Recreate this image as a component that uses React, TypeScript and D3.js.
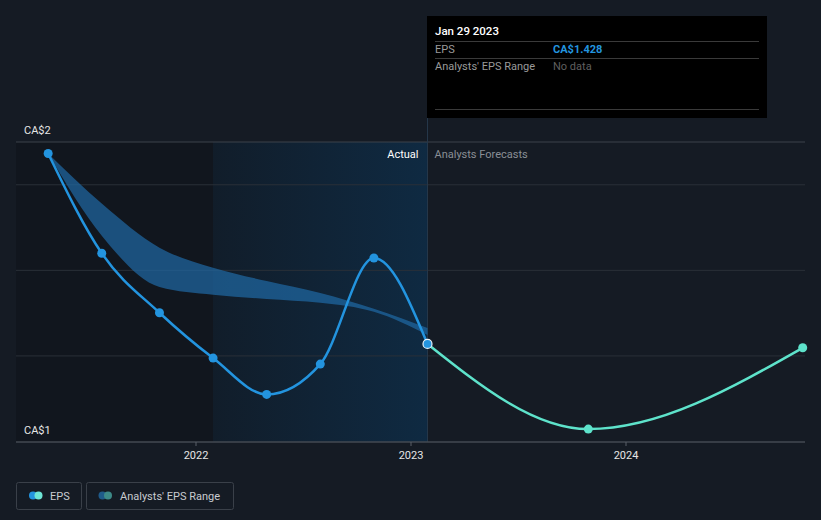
import React from "react";
import * as d3 from "d3";

const actualDates = ["2021-04-25", "2021-07-25", "2021-10-31", "2022-01-30", "2022-05-01", "2022-07-31", "2022-10-30", "2023-01-29"];
const actualEps = [1.873, 1.64, 1.501, 1.395, 1.31, 1.381, 1.629, 1.428];
const bandHigh = [1.873, 1.756, 1.653, 1.606, 1.575, 1.547, 1.51, 1.465];
const bandLow = [1.873, 1.681, 1.561, 1.543, 1.533, 1.524, 1.503, 1.449];
const forecastDates = ["2023-01-29", "2023-10-29", "2024-10-27"];
const forecastEps = [1.428, 1.229, 1.419];
const xTicks = ["2022-01-01", "2023-01-01", "2024-01-01"];
const xTickLabels = ["2022", "2023", "2024"];
const yGrid = [1.4, 1.6, 1.8];
const yLabels = ["CA$2", "CA$1"];

const W = 821;
const H = 520;
const parse = d3.timeParse("%Y-%m-%d");

export default function App() {
  const x = d3
    .scaleTime()
    .domain([parse("2022-01-01")!, parse("2024-01-01")!])
    .range([196, 626]);
  const y = d3.scaleLinear().domain([1.2, 1.9]).range([441.5, 142]);

  const actual = actualDates.map((d, i) => ({ x: x(parse(d)!), y: y(actualEps[i]) }));
  const band = actualDates.map((d, i) => ({ x: x(parse(d)!), hi: y(bandHigh[i]), lo: y(bandLow[i]) }));
  const fc = forecastDates.map((d, i) => ({ x: x(parse(d)!), y: y(forecastEps[i]) }));

  const line = d3
    .line<{ x: number; y: number }>()
    .x((d) => d.x)
    .y((d) => d.y)
    .curve(d3.curveMonotoneX);
  const area = d3
    .area<{ x: number; hi: number; lo: number }>()
    .x((d) => d.x)
    .y0((d) => d.lo)
    .y1((d) => d.hi)
    .curve(d3.curveMonotoneX);

  const nowX = x(parse("2023-01-29")!);
  const pastStart = x(parse("2022-01-30")!);
  const top = y(1.9);
  const bottom = y(1.2);
  const font = "Roboto, 'Noto Sans', sans-serif";

  return (
    <svg width={W} height={H} style={{ position: "absolute", left: 0, top: 0, display: "block" }} fontFamily={font}>
      <defs>
        <linearGradient id="pastGrad" x1="0" x2="1" y1="0" y2="0">
          <stop offset="0%" stopColor="#111d2a" />
          <stop offset="100%" stopColor="#0f2a42" />
        </linearGradient>
      </defs>
      <rect x={0} y={0} width={W} height={H} fill="#151b24" />
      <rect x={16} y={top} width={pastStart - 16} height={bottom - top} fill="#11161e" />
      <rect x={pastStart} y={top} width={nowX - pastStart} height={bottom - top} fill="url(#pastGrad)" />
      {yGrid.map((v) => (
        <line key={v} x1={16} x2={805} y1={y(v)} y2={y(v)} stroke="#2a3038" strokeWidth={1} />
      ))}
      <line x1={16} x2={805} y1={top} y2={top} stroke="#3c424b" strokeWidth={1} />
      <line x1={nowX} x2={nowX} y1={117} y2={bottom} stroke="#26384a" strokeWidth={1} />
      <text x={24} y={134} fill="#e6e6e6" fontSize={11}>{yLabels[0]}</text>
      <text x={24} y={434} fill="#e6e6e6" fontSize={11}>{yLabels[1]}</text>
      <text x={nowX - 9} y={158} fill="#ffffff" fontSize={11} textAnchor="end">Actual</text>
      <text x={nowX + 7} y={158} fill="#8a8f96" fontSize={11}>Analysts Forecasts</text>

      <path d={area(band) || ""} fill="#1f6aa5" fillOpacity={0.7} />
      <path d={line(actual) || ""} fill="none" stroke="#2394df" strokeWidth={2.5} />
      <path d={line(fc) || ""} fill="none" stroke="#5ee3cb" strokeWidth={2.5} />
      {actual.slice(0, -1).map((p, i) => (
        <circle key={i} cx={p.x} cy={p.y} r={4.5} fill="#2394df" />
      ))}
      {fc.slice(1).map((p, i) => (
        <circle key={i} cx={p.x} cy={p.y} r={4.5} fill="#5ee3cb" />
      ))}
      <circle cx={actual[actual.length - 1].x} cy={actual[actual.length - 1].y} r={4.5} fill="#2394df" stroke="#e8f2fa" strokeWidth={1.2} />

      <line x1={16} x2={805} y1={442} y2={442} stroke="#5a6069" strokeWidth={1} />
      {xTicks.map((t, i) => (
        <g key={t}>
          <line x1={x(parse(t)!)} x2={x(parse(t)!)} y1={442} y2={446} stroke="#5a6069" />
          <text x={x(parse(t)!)} y={459} fill="#e6e6e6" fontSize={11} textAnchor="middle">{xTickLabels[i]}</text>
        </g>
      ))}

      <rect x={427} y={16} width={340} height={102} fill="#000000" />
      <text x={435} y={35} fill="#ffffff" fontSize={11.5} fontWeight={500}>Jan 29 2023</text>
      <line x1={435} x2={759} y1={41.5} y2={41.5} stroke="#3a3a3a" />
      <text x={435} y={53} fill="#9a9a9a" fontSize={11}>EPS</text>
      <text x={553} y={53} fill="#2394df" fontSize={11} fontWeight={700}>CA$1.428</text>
      <line x1={435} x2={759} y1={58.5} y2={58.5} stroke="#3a3a3a" />
      <text x={435} y={70} fill="#9a9a9a" fontSize={11}>Analysts' EPS Range</text>
      <text x={553} y={70} fill="#5f5f5f" fontSize={11}>No data</text>
      <line x1={435} x2={759} y1={109.5} y2={109.5} stroke="#3a3a3a" />

      <rect x={16.5} y={482.5} width={65} height={27} rx={2} fill="none" stroke="#3a4049" />
      <circle cx={33} cy={495.5} r={4} fill="#2394df" />
      <circle cx={38.5} cy={495.5} r={4} fill="#6ee6d6" />
      <text x={50} y={499.5} fill="#c8cbd0" fontSize={11}>EPS</text>
      <rect x={86.5} y={482.5} width={147} height={27} rx={2} fill="none" stroke="#3a4049" />
      <circle cx={102.5} cy={495.5} r={4} fill="#1f5b8a" />
      <circle cx={108} cy={495.5} r={4} fill="#3d8a88" />
      <text x={120} y={499.5} fill="#c8cbd0" fontSize={11}>Analysts' EPS Range</text>
    </svg>
  );
}
